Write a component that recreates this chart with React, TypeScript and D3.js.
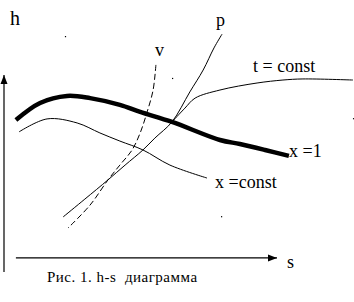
import React from 'react';
import * as d3 from 'd3';

// h-s diagram, values in arbitrary diagram units (s: 0..10, h: 0..10)
const satLine: [number, number][] = [
  [0.34, 5.63], [1.03, 6.26], [1.8, 6.52], [2.46, 6.44], [3.31, 6.19], [3.89, 5.93],
  [4.8, 5.56], [6.17, 4.89], [6.74, 4.74], [7.46, 4.52], [8.14, 4.3],
];
const xConst: [number, number][] = [
  [0.43, 5.19], [1.23, 5.67], [2.09, 5.52], [2.74, 5.15], [3.31, 4.85], [3.97, 4.52],
  [4.74, 3.96], [5.8, 3.48],
];
const tConst: [number, number][] = [
  [4.8, 5.56], [5.17, 6.07], [5.46, 6.44], [6.17, 6.74], [7.23, 7.0], [7.97, 7.11],
  [8.54, 7.15], [9.97, 7.11],
];
const pLine: [number, number][] = [
  [6.23, 8.81], [6.0, 8.3], [5.69, 7.48], [5.31, 6.67], [4.8, 5.56], [4.31, 4.96],
  [3.97, 4.52], [3.46, 3.96], [2.97, 3.41], [2.31, 2.7], [1.69, 2.04],
];
const vLine: [number, number][] = [
  [4.34, 7.67], [4.26, 6.74], [4.09, 5.93], [3.89, 5.15], [3.66, 4.52], [3.31, 3.96],
  [2.97, 3.41], [2.46, 2.48], [1.83, 1.63],
];
const hAxis: [number, number][] = [[0.34, 0.52], [7.8, 0.52]];
const vAxis: [number, number][] = [[0, 0], [0, 7.3]];
const specks: [number, number][] = [[1.74, 8.74], [4.8, 7.19], [9.97, 5.7], [6.2, 2.07]];

const W = 354;
const H = 302;
const serif = '"Times New Roman", "Liberation Serif", "DejaVu Serif", serif';

const App: React.FC = () => {
  const sX = d3.scaleLinear().domain([0, 10]).range([4, 354]);
  const hY = d3.scaleLinear().domain([0, 10]).range([272, 2]);

  const curve = d3
    .line<[number, number]>()
    .x((d) => sX(d[0]))
    .y((d) => hY(d[1]))
    .curve(d3.curveCatmullRom.alpha(0.5));
  const straight = d3
    .line<[number, number]>()
    .x((d) => sX(d[0]))
    .y((d) => hY(d[1]));

  // arrow tips
  const vTip = [sX(vAxis[1][0]), hY(vAxis[1][1])];
  const hTip = [sX(hAxis[1][0]), hY(hAxis[1][1])];

  return (
    <svg width={W} height={H} style={{ position: 'absolute', left: 0, top: 0, background: '#fff' }}>
      <rect width={W} height={H} fill="#fff" />
      <g stroke="#000" fill="none">
        <path d={straight(vAxis) || ''} strokeWidth={1.2} />
        <path d={straight(hAxis) || ''} strokeWidth={1.2} />
        <path d={curve(xConst) || ''} strokeWidth={1} />
        <path d={curve(tConst) || ''} strokeWidth={1} />
        <path d={curve(pLine) || ''} strokeWidth={1} />
        <path d={curve(vLine) || ''} strokeWidth={1} strokeDasharray="6,3" />
        <path d={curve(satLine) || ''} strokeWidth={4.5} />
      </g>
      <path
        d={`M${vTip[0]},${vTip[1]} L${vTip[0] - 3.5},${vTip[1] + 9} L${vTip[0] + 3.5},${vTip[1] + 9} Z`}
        fill="#000"
      />
      <path
        d={`M${hTip[0]},${hTip[1]} L${hTip[0] - 9},${hTip[1] - 3.5} L${hTip[0] - 9},${hTip[1] + 3.5} Z`}
        fill="#000"
      />
      {specks.map((d, i) => (
        <rect key={i} x={sX(d[0])} y={hY(d[1])} width={1.2} height={1.2} fill="#000" />
      ))}
      <g fontFamily={serif} fill="#000">
        <text x={10} y={25} fontSize={20}>h</text>
        <text x={155} y={56} fontSize={18}>v</text>
        <text x={216} y={26} fontSize={18}>p</text>
        <text x={253} y={72} fontSize={18}>t = const</text>
        <text x={289} y={157} fontSize={18}>x =1</text>
        <text x={215} y={188} fontSize={18}>x =const</text>
        <text x={287} y={268} fontSize={18}>s</text>
        <text x={47} y={282} fontSize={15} letterSpacing={0.5}>Рис. 1. h-s {'\u00a0'}диаграмма</text>
      </g>
    </svg>
  );
};

export default App;
